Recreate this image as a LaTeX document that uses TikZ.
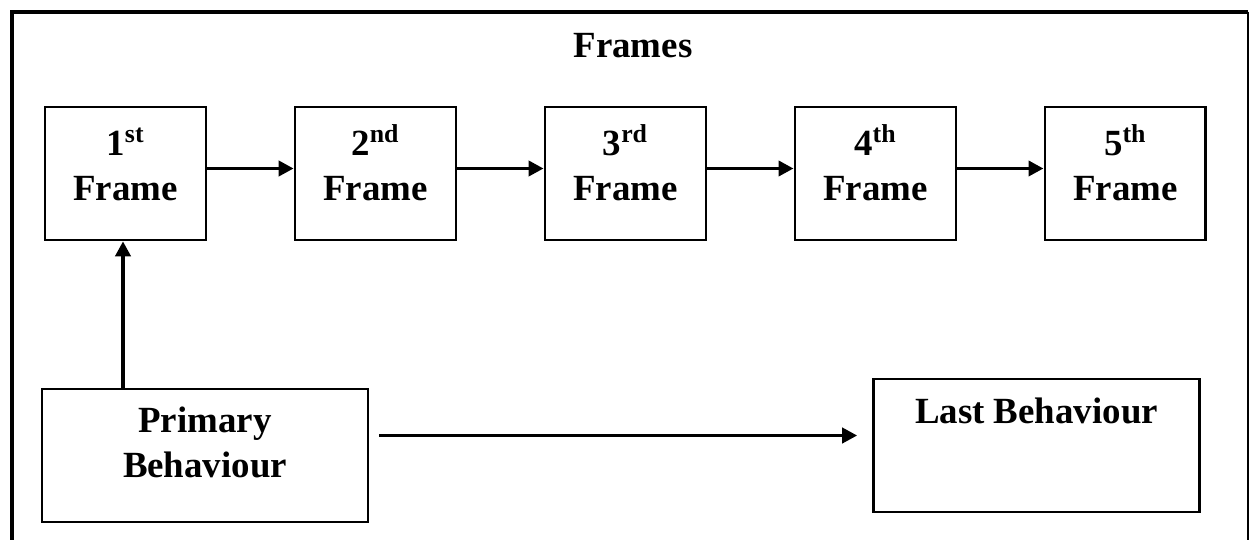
\documentclass[tikz,border=0pt]{standalone}
\usepackage{fontspec}
\setmainfont{Liberation Serif}
\usepackage{tikz}
\usetikzlibrary{arrows.meta}

\begin{document}
\begin{tikzpicture}[x=0.02cm,y=-0.02cm,node distance=5cm,
    font=\bfseries\fontsize{21}{26}\selectfont, >={Triangle[length=0.3cm,width=0.3cm]},
    framebox/.style={draw, line width=1.5pt, minimum width=3.22cm, minimum height=2.66cm,
      align=center, text height=1.5cm, text depth=0.4cm},
    behbox/.style={framebox, minimum width=6.52cm},
    link/.style={->, line width=2.2pt}]
    \useasboundingbox (0,0) rectangle (1253,540);
    \draw[line width=2.6pt] (12,540) -- (12,12) -- (1248,12);
    \draw[line width=0.8pt] (1248,12) -- (1248,540);
    \node[anchor=base] (title) at (633,58) {Frames};
    \node[framebox] (f1) at (125.5,173.5) {1\textsuperscript{st}\\Frame};
    \node[framebox] (f2) [right of=f1] {2\textsuperscript{nd}\\Frame};
    \node[framebox] (f3) [right of=f2] {3\textsuperscript{rd}\\Frame};
    \node[framebox] (f4) [right of=f3] {4\textsuperscript{th}\\Frame};
    \node[framebox] (f5) [right of=f4] {5\textsuperscript{th}\\Frame};
    \node[behbox, text depth=0.6cm] (pb) at (205,455.5) {Primary\\Behaviour};
    \node[behbox, text height=0.5cm, text depth=1.4cm] (lb) at (1036.5,445.5) {Last Behaviour};
    \draw[link] ([yshift=0.1cm]f1.east) -- ([yshift=0.1cm]f2.west);
    \draw[link] ([yshift=0.1cm]f2.east) -- ([yshift=0.1cm]f3.west);
    \draw[link] ([yshift=0.1cm]f3.east) -- ([yshift=0.1cm]f4.west);
    \draw[link] ([yshift=0.1cm]f4.east) -- ([yshift=0.1cm]f5.west);
    \draw[link] ([xshift=-0.05cm]pb.north -| f1.south) -- ([xshift=-0.05cm]f1.south);
    \draw[link, shorten <=0.2cm, shorten >=0.3cm]
      ([yshift=0.4cm]pb.east) -- ([yshift=0.4cm]pb.east -| lb.west);
\end{tikzpicture}
\end{document}
